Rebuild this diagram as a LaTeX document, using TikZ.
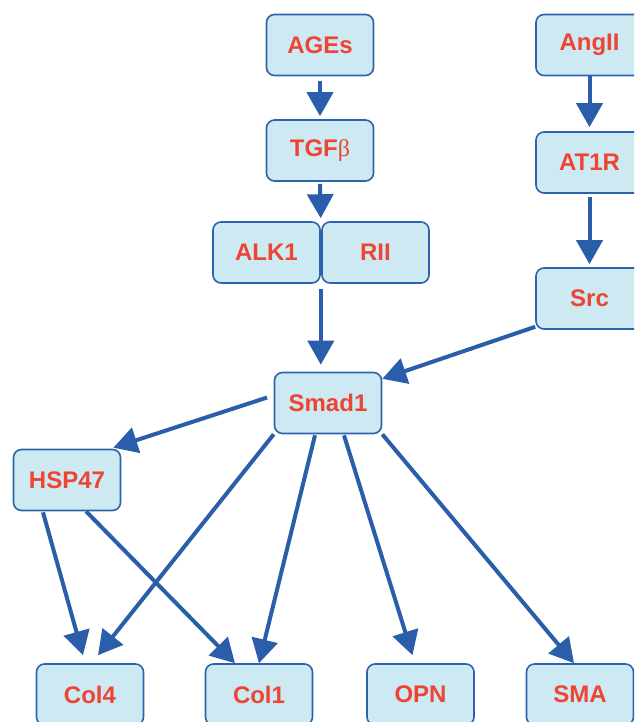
\documentclass[tikz,border=0pt]{standalone}
\usepackage{fontspec}
\setmainfont{Liberation Sans}
\newfontfamily\grkfont{Liberation Serif}
\usepackage{tikz}
\usetikzlibrary{calc}
\usetikzlibrary{arrows.meta}

\definecolor{boxfill}{HTML}{CDE9F1}
\definecolor{boxline}{HTML}{2D62AE}
\definecolor{arrline}{HTML}{2A5EAB}
\definecolor{labred}{HTML}{EE4433}

\begin{document}
\begin{tikzpicture}[x=1pt,y=-1pt,
	box/.style={draw=boxline,line width=1.6pt,fill=boxfill,rounded corners=8pt,
		minimum width=107pt,minimum height=61pt,inner sep=0pt,text=labred,
		font=\fontsize{24}{28}\selectfont\bfseries},
	arr/.style={draw=arrline,line width=4pt,-{Triangle[length=24pt,width=26pt]}}]

						\useasboundingbox (0,0) rectangle (634,722);
						\clip (0,0) rectangle (634,722);

						\node[box] (ages) at (320,45) {AGEs};
						\node[box] (tgf) at (320,150.5) {TGF{\grkfont\mdseries β}};
						\node[box] (alk) at (266.5,252.5) {ALK1};
						\node[box] (rii) at (375.5,252.5) {RII};
						\node[box] (angii) at (589.5,45) {AngII};
						\node[box] (at1r) at (589.5,162.5) {AT1R};
						\node[box] (src) at (589.5,298.5) {Src};
						\node[box] (smad) at (328,403) {Smad1};
						\node[box] (hsp) at (67,480) {HSP47};
						\node[box] (col4) at (90,694.5) {Col4};
						\node[box] (col1) at (259,694.5) {Col1};
						\node[box] (opn) at (420.5,694.5) {OPN};
						\node[box] (sma) at (580,694.5) {SMA};

						\draw[arr,shorten <=5pt,shorten >=3pt] (ages.south) -- (tgf.north);
						\draw[arr,shorten <=2pt,shorten >=3pt] (tgf.south) -- (alk.north east);
						\draw[arr,shorten <=5pt,shorten >=7pt] (alk.south east) -- (alk.south east |- smad.north);
						\draw[arr,shorten >=4pt] (angii.south) -- (at1r.north);
						\draw[arr,shorten <=3pt,shorten >=3pt] (at1r.south) -- (src.north);
						\draw[arr] ($(src.south west)+(0,-3)$) -- (smad.24);
						\draw[arr,shorten <=7pt] (smad.172) -- ($(hsp.north east)+(-8,-1)$);
						\draw[arr] (smad.south west) -- ($(col4.north)+(8,-8)$);
						\draw[arr] ($(smad.south)+(-13,1)$) -- (col1.north);
						\draw[arr] ($(smad.south)+(16,1)$) -- ($(opn.north)+(-8,-8)$);
						\draw[arr] (smad.south east) -- ($(sma.north)+(-6,0)$);
						\draw[arr] ($(hsp.south)+(-24,1)$) -- ($(col4.north)+(-7,-8)$);
						\draw[arr] ($(hsp.south)+(19,0)$) -- ($(col1.north)+(-24,0)$);

					\end{tikzpicture}
\end{document}
